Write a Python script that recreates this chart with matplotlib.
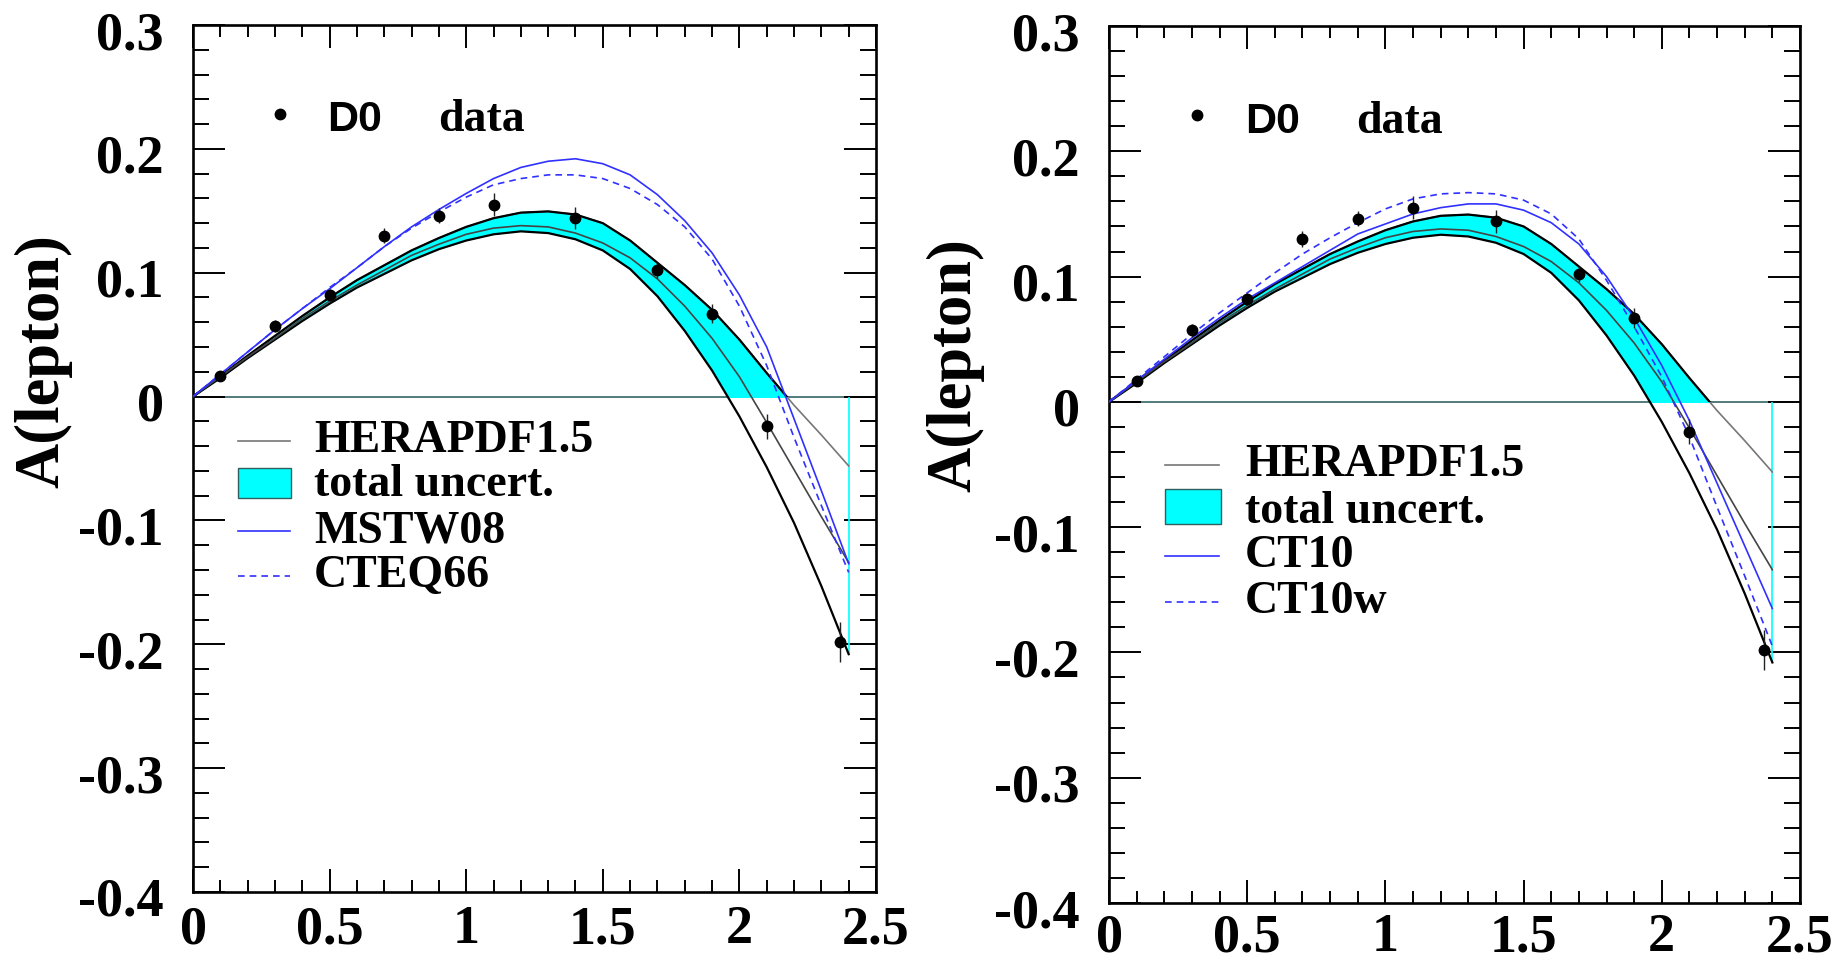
import numpy as np
import matplotlib
matplotlib.use('Agg')
import matplotlib.pyplot as plt
from matplotlib.patches import Rectangle
from matplotlib.transforms import ScaledTranslation

plt.rcParams['axes.unicode_minus'] = False

# D0 lepton charge asymmetry data
d0_eta = [0.1, 0.3, 0.5, 0.7, 0.9, 1.1, 1.4, 1.7, 1.9, 2.1, 2.37]
d0_asym = [0.017, 0.057, 0.082, 0.130, 0.146, 0.155, 0.144, 0.102, 0.067, -0.024, -0.198]
d0_err = [0.004, 0.005, 0.005, 0.006, 0.006, 0.009, 0.009, 0.006, 0.008, 0.010, 0.016]

# theory predictions, sampled every 0.1 in eta
eta_th = [0.0, 0.1, 0.2, 0.3, 0.4, 0.5, 0.6, 0.7, 0.8, 0.9, 1.0, 1.1, 1.2,
          1.3, 1.4, 1.5, 1.6, 1.7, 1.8, 1.9, 2.0, 2.1, 2.2, 2.3, 2.4]
hera_up = [0.0, 0.0165, 0.033, 0.049, 0.065, 0.080, 0.094, 0.106, 0.118, 0.128,
           0.137, 0.144, 0.1485, 0.1495, 0.147, 0.140, 0.126, 0.108, 0.090, 0.070,
           0.046, 0.019, -0.007, -0.031, -0.056]
hera_central = [0.0, 0.016, 0.032, 0.047, 0.063, 0.077, 0.090, 0.102, 0.114, 0.123,
                0.131, 0.136, 0.138, 0.137, 0.132, 0.124, 0.112, 0.095, 0.073, 0.047,
                0.016, -0.021, -0.059, -0.097, -0.134]
hera_low = [0.0, 0.015, 0.031, 0.046, 0.061, 0.075, 0.088, 0.099, 0.110, 0.119,
            0.126, 0.131, 0.1334, 0.132, 0.127, 0.118, 0.103, 0.081, 0.053, 0.021,
            -0.016, -0.057, -0.102, -0.153, -0.208]
mstw08 = [0.0, 0.018, 0.036, 0.054, 0.071, 0.087, 0.104, 0.121, 0.137, 0.151,
          0.164, 0.176, 0.185, 0.190, 0.192, 0.188, 0.179, 0.163, 0.142, 0.116,
          0.082, 0.040, -0.018, -0.076, -0.135]
cteq66 = [0.0, 0.018, 0.036, 0.054, 0.071, 0.088, 0.104, 0.121, 0.136, 0.149,
          0.161, 0.171, 0.176, 0.179, 0.179, 0.176, 0.168, 0.155, 0.137, 0.111,
          0.073, 0.025, -0.033, -0.088, -0.142]
ct10 = [0.0, 0.017, 0.034, 0.051, 0.067, 0.082, 0.095, 0.108, 0.121, 0.134,
        0.142, 0.150, 0.155, 0.158, 0.158, 0.153, 0.143, 0.126, 0.100, 0.067,
        0.029, -0.015, -0.065, -0.115, -0.165]
ct10w = [0.0, 0.018, 0.036, 0.054, 0.071, 0.087, 0.103, 0.118, 0.131, 0.143,
         0.154, 0.162, 0.166, 0.167, 0.166, 0.161, 0.150, 0.130, 0.097, 0.060,
         0.020, -0.028, -0.084, -0.139, -0.195]

xticks = [0, 0.5, 1, 1.5, 2, 2.5]
xtick_labels = ['0', '0.5', '1', '1.5', '2', '2.5']
yticks = [-0.4, -0.3, -0.2, -0.1, 0, 0.1, 0.2, 0.3]
ytick_labels = ['-0.4', '-0.3', '-0.2', '-0.1', '0', '0.1', '0.2', '0.3']

SERIF = 'Liberation Serif'
SANS = 'Liberation Sans'
BLUE = '#3030ff'
CYAN = '#00ffff'


def style_axes(fig, ax, xpad):
    ax.set_xlim(0, 2.5)
    ax.set_ylim(-0.4, 0.3)
    ax.set_xticks(xticks)
    ax.set_xticklabels(xtick_labels)
    ax.set_yticks(yticks)
    ax.set_yticklabels(ytick_labels)
    ax.set_xticks(np.arange(0, 2.51, 0.1), minor=True)
    ax.set_yticks(np.arange(-0.4, 0.301, 0.02), minor=True)
    ax.tick_params(which='both', direction='in', top=True, right=True, width=1.4,
                   color='black')
    ax.tick_params(axis='y', which='major', length=23, pad=21)
    ax.tick_params(axis='y', which='minor', length=11.5)
    ax.tick_params(axis='x', which='major', length=16.5, pad=xpad)
    ax.tick_params(axis='x', which='minor', length=8.6)
    for lab in ax.get_xticklabels() + ax.get_yticklabels():
        lab.set_fontfamily(SERIF)
        lab.set_fontweight('bold')
        lab.set_fontsize(39)
    shift = ScaledTranslation(0, -5 / 100, fig.dpi_scale_trans)
    for lab in ax.get_yticklabels():
        lab.set_transform(lab.get_transform() + shift)
    for sp in ax.spines.values():
        sp.set_linewidth(1.9)


def draw_panel(fig, ax, blue_solid, blue_dashed, names, leg):
    x = np.array(eta_th)
    up = np.array(hera_up)
    lo = np.array(hera_low)

    ax.axhline(0, color='#336666', lw=1.2, zorder=1)

    # uncertainty band is only filled above zero, as in the original
    clip = Rectangle((0, 0), 2.5, 0.3, transform=ax.transData)
    band = ax.fill_between(x, lo, up, color=CYAN, lw=0, zorder=2)
    band.set_clip_path(clip)
    ax.vlines(x[-1], lo[-1], 0, color=CYAN, lw=1.2, zorder=2)

    ax.plot(x, up, color='#777777', lw=1.2, zorder=3)
    up_edge, = ax.plot(x, up, color='black', lw=1.6, zorder=4)
    up_edge.set_clip_path(clip)
    ax.plot(x, lo, color='black', lw=1.6, zorder=4)
    ax.plot(x, hera_central, color='#444444', lw=1.2, zorder=4)

    ax.plot(x, blue_solid, color=BLUE, lw=1.2, zorder=5)
    ax.plot(x, blue_dashed, color=BLUE, lw=1.2, dashes=(4, 3), zorder=5)

    ax.errorbar(d0_eta, d0_asym, yerr=d0_err, fmt='o', color='black', ms=7.5,
                elinewidth=1.0, ecolor='#222222', capsize=0, zorder=6)

    # D0 data key
    tr = ax.transAxes
    ty = leg['mk_y'] - 0.007
    ax.plot([leg['mk_x']], [leg['mk_y']], 'o', color='black', ms=7.5, transform=tr)
    ax.text(leg['d0_x'], ty, 'D0', transform=tr, fontsize=31,
            fontfamily=SANS, fontweight='bold', va='center')
    ax.text(leg['data_x'], ty, 'data', transform=tr, fontsize=33,
            fontfamily=SERIF, fontweight='bold', va='center')

    # model legend
    x0, x1 = leg['line_x']
    rows = [r - 0.004 for r in leg['rows']]
    ax.plot([x0, x1], [rows[0], rows[0]], color='#777777', lw=1.2, transform=tr)
    bx, by, bw, bh = leg['box']
    ax.add_patch(Rectangle((bx, by - 0.004), bw, bh, transform=tr, facecolor=CYAN,
                           edgecolor='#2f5f5f', lw=1.0))
    ax.plot([x0, x1], [rows[2], rows[2]], color=BLUE, lw=1.2, transform=tr)
    ax.plot([x0, x1], [rows[3], rows[3]], color=BLUE, lw=1.2, dashes=(4, 3),
            transform=tr)
    for name, yy in zip(['HERAPDF1.5', 'total uncert.'] + names, rows):
        ax.text(leg['text_x'], yy, name, transform=tr, fontsize=33,
                fontfamily=SERIF, fontweight='bold', va='center')


fig = plt.figure(figsize=(18.45, 9.66), dpi=100)
ax1 = fig.add_axes([193 / 1845, 1 - 892 / 966, 683 / 1845, 867 / 966])
ax2 = fig.add_axes([1109 / 1845, 1 - 903 / 966, 691 / 1845, 877 / 966])

leg1 = dict(mk_x=0.127, mk_y=0.897, d0_x=0.196, data_x=0.359,
            line_x=(0.066, 0.142), text_x=0.177,
            rows=[0.524, 0.473, 0.420, 0.368], box=(0.066, 0.458, 0.077, 0.0345))
leg2 = dict(mk_x=0.127, mk_y=0.898, d0_x=0.197, data_x=0.357,
            line_x=(0.081, 0.159), text_x=0.197,
            rows=[0.504, 0.450, 0.400, 0.347], box=(0.081, 0.4356, 0.081, 0.041))

draw_panel(fig, ax1, mstw08, cteq66, ['MSTW08', 'CTEQ66'], leg1)
draw_panel(fig, ax2, ct10, ct10w, ['CT10', 'CT10w'], leg2)
style_axes(fig, ax1, 9.5)
style_axes(fig, ax2, 7.5)

fig.text(43.5 / 1845, 1 - 361 / 966, 'A(lepton)', rotation=90, fontsize=45,
         fontfamily=SERIF, fontweight='bold', ha='center', va='center')
fig.text(955 / 1845, 1 - 365 / 966, 'A(lepton)', rotation=90, fontsize=45,
         fontfamily=SERIF, fontweight='bold', ha='center', va='center')

fig.savefig('out.png', dpi=100)
